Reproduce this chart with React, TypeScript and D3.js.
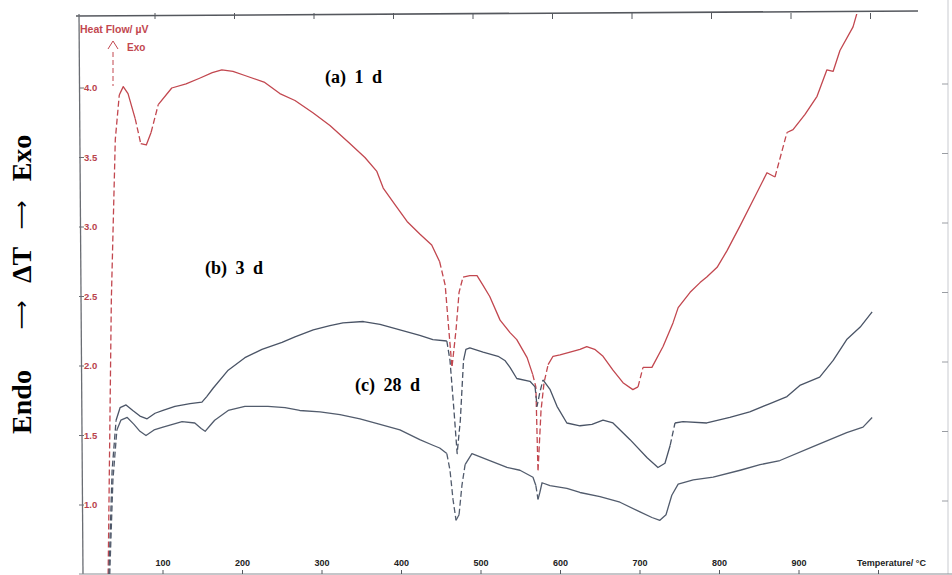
import React from "react";
import * as d3 from "d3";

// Temperature (°C) / heat flow (µV)
const curveA1d: [number, number][] = [
  [31, 0.5], [35, 2.47], [40, 3.63], [45, 3.95], [50, 4.01], [56, 3.96], [65, 3.78], [72, 3.6], [79, 3.59],
  [85, 3.68], [94, 3.88], [111, 4.0], [129, 4.03], [146, 4.07], [162, 4.11], [174, 4.13], [188, 4.12],
  [203, 4.09], [228, 4.04], [247, 3.96], [266, 3.91], [289, 3.82], [310, 3.73], [335, 3.6], [354, 3.5],
  [369, 3.4], [377, 3.28], [392, 3.16], [407, 3.04], [423, 2.95], [438, 2.87], [448, 2.75], [455, 2.58],
  [458.5, 2.33], [463.5, 1.99], [468.6, 2.26], [472.4, 2.53], [477.4, 2.64], [486, 2.65], [495, 2.65],
  [502.6, 2.58], [511, 2.5], [524, 2.33], [536.5, 2.24], [545, 2.19], [558, 2.06], [565, 1.94], [569, 1.85],
  [571.7, 1.24], [575.5, 1.68], [579.3, 1.88], [584.4, 2.01], [590.6, 2.07], [599.4, 2.08], [612, 2.1],
  [624.5, 2.12], [633, 2.14], [643, 2.12], [653.5, 2.07], [666, 1.97], [678.6, 1.88], [691, 1.83],
  [697.5, 1.85], [703.8, 1.99], [715, 1.99], [729, 2.14], [741.5, 2.31], [748, 2.42], [763, 2.53],
  [775.5, 2.6], [784, 2.64], [797, 2.71], [809.5, 2.83], [826, 3.01], [844.6, 3.22], [859.7, 3.39],
  [869.8, 3.36], [884.9, 3.68], [892.5, 3.7], [907.6, 3.81], [922.7, 3.94], [935, 4.13], [943, 4.12],
  [951.5, 4.27], [968, 4.44], [974, 4.56], [979, 4.63],
];

const curveB3d: [number, number][] = [
  [32, 0.5], [36, 1.25], [41, 1.61], [46, 1.7], [53.5, 1.72], [62, 1.68], [71, 1.64], [80, 1.62], [90, 1.66],
  [100, 1.68], [115, 1.71], [134, 1.73], [149, 1.74], [155, 1.78], [163, 1.84], [182, 1.97], [203, 2.06],
  [224.5, 2.12], [249.7, 2.17], [266, 2.21], [289, 2.26], [310, 2.29], [326.4, 2.31], [352, 2.32],
  [373, 2.3], [398, 2.26], [423, 2.22], [439.5, 2.19], [457, 2.18], [461, 2.04], [466, 1.68], [470, 1.37],
  [474, 1.61], [478, 2.04], [481, 2.12], [486, 2.13], [502.6, 2.1], [521.5, 2.07], [530, 2.04],
  [536.5, 1.99], [545, 1.91], [561.6, 1.89], [568, 1.85], [570.5, 1.71], [574, 1.81], [578, 1.9],
  [587, 1.83], [595.6, 1.71], [608, 1.59], [624.5, 1.57], [639.6, 1.58], [653.5, 1.61], [666, 1.59],
  [687.5, 1.47], [709, 1.34], [722.6, 1.27], [731.4, 1.3], [738, 1.43], [744, 1.59], [754, 1.6],
  [784, 1.59], [813, 1.63], [838, 1.67], [863.5, 1.73], [884.9, 1.78], [901, 1.86], [926, 1.92],
  [943, 2.04], [960, 2.19], [977, 2.28], [992, 2.39],
];

const curveC28d: [number, number][] = [
  [33, 0.5], [37, 1.18], [42, 1.54], [47, 1.61], [55, 1.63], [63.5, 1.58], [71, 1.53], [78.6, 1.5],
  [88.7, 1.54], [100, 1.56], [124, 1.6], [140, 1.59], [148, 1.55], [153, 1.53], [159, 1.57], [165, 1.61],
  [182, 1.68], [203, 1.71], [232, 1.71], [253.5, 1.7], [272, 1.68], [297.5, 1.67], [322.6, 1.65],
  [347.8, 1.62], [373, 1.58], [398, 1.54], [423, 1.47], [439.5, 1.43], [448, 1.41], [457, 1.37],
  [461, 1.25], [464.8, 1.04], [468.6, 0.89], [472.4, 0.93], [476, 1.14], [480, 1.29], [488.6, 1.37],
  [511, 1.32], [532.7, 1.27], [549, 1.25], [565.4, 1.2], [569, 1.14], [571.7, 1.04], [574, 1.09],
  [576.8, 1.16], [586.8, 1.14], [608, 1.12], [624.5, 1.09], [649.7, 1.06], [674.8, 1.02], [700, 0.95],
  [715, 0.91], [725, 0.89], [732.7, 0.93], [740, 1.07], [748, 1.15], [767, 1.18], [792, 1.2], [826, 1.25],
  [851, 1.29], [876, 1.32], [917.6, 1.42], [960, 1.52], [980.5, 1.56], [992, 1.63],
];

const xTicks = [100, 200, 300, 400, 500, 600, 700, 800, 900];
const yTicks = [1.0, 1.5, 2.0, 2.5, 3.0, 3.5, 4.0];
const curveLabels = ["(a) 1 d", "(b) 3 d", "(c) 28 d"];
const yTitleParts = ["Endo", "⟶", "ΔT", "⟶", "Exo"];

const W = 952;
const H = 575;
const plot = { left: 79, right: 948, top: 14, bottom: 574 };

const x = d3.scaleLinear().domain([0, 1000]).range([83.5, 878.5]);
const y = d3.scaleLinear().domain([1.0, 4.0]).range([505, 88]);

type Run = { dash: boolean; pts: [number, number][] };

function splitRuns(data: [number, number][]): Run[] {
  const pts = data.map(([t, v]) => [x(t), y(v)] as [number, number]);
  const runs: Run[] = [];
  let cur: [number, number][] = [pts[0]];
  let curDash: boolean | null = null;
  for (let i = 1; i < pts.length; i++) {
    const dx = Math.abs(pts[i][0] - pts[i - 1][0]);
    const dy = Math.abs(pts[i][1] - pts[i - 1][1]);
    const steep = dy > 12 && dy > 3.5 * dx;
    if (curDash === null) curDash = steep;
    if (steep !== curDash) {
      runs.push({ dash: curDash, pts: cur });
      cur = [pts[i - 1]];
      curDash = steep;
    }
    cur.push(pts[i]);
  }
  runs.push({ dash: !!curDash, pts: cur });
  return runs;
}

const lineGen = d3.line<[number, number]>().x((d) => d[0]).y((d) => d[1]).curve(d3.curveLinear);

const series = [
  { data: curveA1d, color: "#c2474f" },
  { data: curveB3d, color: "#4a5466" },
  { data: curveC28d, color: "#525c6d" },
];

export default function App() {
  const serif = "'Liberation Serif', 'Times New Roman', serif";
  const sans = "'Liberation Sans', Arial, sans-serif";
  const titleY = [402, 315, 265, 215, 158];
  return (
    <svg
      width={W}
      height={H}
      viewBox={`0 0 ${W} ${H}`}
      style={{ position: "absolute", left: 0, top: 0, background: "#fff" }}
    >
      <defs>
        <clipPath id="plotClip">
          <rect x={plot.left} y={plot.top} width={plot.right - plot.left} height={plot.bottom - plot.top} />
        </clipPath>
      </defs>
      <rect x={0} y={0} width={W} height={H} fill="#fff" />

      {/* frame */}
      <line x1={plot.left - 3} y1={plot.top + 2} x2={918} y2={plot.top - 3} stroke="#55585e" strokeWidth={1.6} />
      <line x1={plot.left} y1={plot.top} x2={plot.left + 4} y2={plot.bottom} stroke="#6a6d73" strokeWidth={1.3} />
      <line x1={plot.right} y1={0} x2={plot.right} y2={plot.bottom} stroke="#c9cbd0" strokeWidth={1} />
      <line x1={plot.left} y1={plot.bottom} x2={W} y2={plot.bottom} stroke="#8a8d93" strokeWidth={1.2} />

      {/* top ticks */}
      {xTicks.concat([1000]).map((t) => (
        <line key={"tt" + t} x1={x(t) - 8} x2={x(t) - 8} y1={plot.top - 1} y2={plot.top + 5} stroke="#55585e" strokeWidth={1} />
      ))}

      {/* y ticks and labels */}
      {yTicks.map((v) => (
        <g key={"y" + v}>
          <line x1={plot.left} x2={plot.left + 5} y1={y(v)} y2={y(v)} stroke="#6a6d73" strokeWidth={1} />
          <line x1={plot.right - 6} x2={plot.right} y1={y(v) - 4} y2={y(v) - 4} stroke="#9a9da3" strokeWidth={1} />
          <text
            x={plot.left + 5}
            y={y(v)}
            dy="0.35em"
            fontFamily={sans}
            fontWeight="bold"
            fontSize={9.5}
            fill="#b8434b"
          >
            {v.toFixed(1)}
          </text>
        </g>
      ))}

      {/* x ticks and labels */}
      {xTicks.map((t) => (
        <g key={"x" + t}>
          <line x1={x(t)} x2={x(t)} y1={plot.bottom - 4} y2={plot.bottom} stroke="#55585e" strokeWidth={1} />
          <text x={x(t)} y={566} textAnchor="middle" fontFamily={sans} fontWeight="bold" fontSize={9} fill="#222">
            {t}
          </text>
        </g>
      ))}
      <line x1={x(1000)} x2={x(1000)} y1={plot.bottom - 4} y2={plot.bottom} stroke="#55585e" strokeWidth={1} />
      <text x={857} y={566} fontFamily={sans} fontWeight="bold" fontSize={9} fill="#222">
        Temperature/ °C
      </text>

      {/* Heat flow header */}
      <text x={plot.left + 1} y={33} fontFamily={sans} fontWeight="bold" fontSize={10.5} fill="#c2474f">
        Heat Flow/ µV
      </text>
      <path d="M108,49 L113,41 L118,49" fill="none" stroke="#c2474f" strokeWidth={1} />
      <line x1={113} x2={113} y1={52} y2={86} stroke="#c2474f" strokeWidth={1} strokeDasharray="5 3" />
      <text x={127} y={51} fontFamily={sans} fontWeight="bold" fontSize={10} fill="#c2474f">
        Exo
      </text>

      {/* curves */}
      <g clipPath="url(#plotClip)">
        {series.map((s, i) =>
          splitRuns(s.data).map((r, j) => (
            <path
              key={`c${i}-${j}`}
              d={lineGen(r.pts) || ""}
              fill="none"
              stroke={s.color}
              strokeWidth={1.3}
              strokeLinejoin="round"
              strokeDasharray={r.dash ? "6 3" : undefined}
            />
          ))
        )}
      </g>

      {/* curve labels */}
      <text x={325} y={83} fontFamily={serif} fontWeight="bold" fontSize={18} wordSpacing={4} fill="#000">
        {curveLabels[0]}
      </text>
      <text x={205} y={274} fontFamily={serif} fontWeight="bold" fontSize={18} wordSpacing={4} fill="#000">
        {curveLabels[1]}
      </text>
      <text x={355} y={391} fontFamily={serif} fontWeight="bold" fontSize={18} wordSpacing={4} fill="#000">
        {curveLabels[2]}
      </text>

      {/* y-axis title */}
      {yTitleParts.map((p, i) => (
        <text
          key={"yt" + i}
          transform={`translate(21,${titleY[i]}) rotate(-90)`}
          textAnchor="middle"
          dy="0.35em"
          fontFamily={p === "⟶" ? "'DejaVu Sans', sans-serif" : serif}
          fontWeight={p === "⟶" ? "normal" : "bold"}
          fontSize={p === "⟶" ? 20 : 28}
          fill="#000"
        >
          {p}
        </text>
      ))}
    </svg>
  );
}
